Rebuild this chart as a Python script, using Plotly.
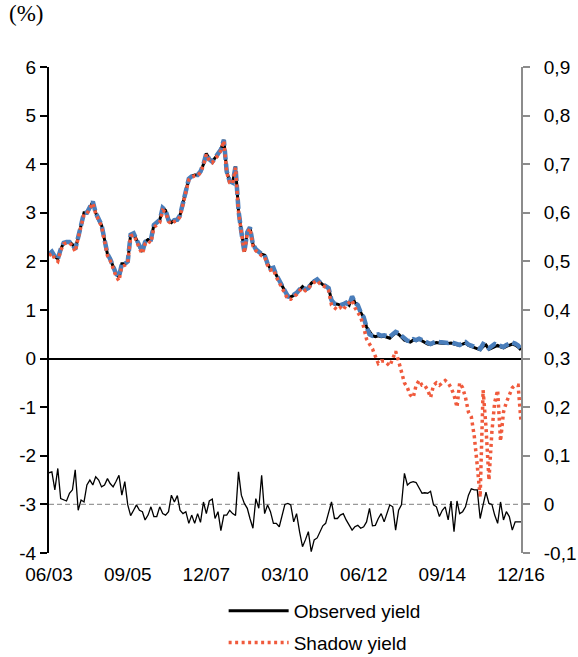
import plotly.graph_objects as go
from plotly.subplots import make_subplots
import pandas as pd

months = pd.date_range("2003-06-01", "2016-12-01", freq="MS")

observed_yield = [
    2.15, 2.20, 2.10, 2.05, 2.25, 2.38, 2.40, 2.40, 2.35, 2.25,
    2.50, 2.75, 3.00, 3.00, 3.10, 3.23, 3.00, 2.85, 2.75, 2.45,
    2.15, 2.05, 1.90, 1.75, 1.68, 1.95, 1.95, 2.00, 2.55, 2.58,
    2.45, 2.30, 2.20, 2.40, 2.45, 2.45, 2.75, 2.80, 2.85, 3.10,
    3.05, 2.85, 2.80, 2.85, 2.86, 2.95, 3.20, 3.50, 3.70, 3.75,
    3.78, 3.78, 3.85, 4.00, 4.22, 4.10, 4.05, 4.13, 4.20, 4.30,
    4.50, 3.85, 3.65, 3.62, 3.95, 3.05, 2.60, 2.20, 2.60, 2.70,
    2.35, 2.25, 2.20, 2.15, 2.13, 1.95, 1.85, 1.87, 1.72, 1.60,
    1.48, 1.38, 1.28, 1.27, 1.30, 1.35, 1.42, 1.48, 1.42, 1.45,
    1.55, 1.60, 1.63, 1.57, 1.52, 1.50, 1.45, 1.20, 1.13, 1.12,
    1.10, 1.12, 1.15, 1.10, 1.28, 1.15, 1.10, 0.95, 0.85, 0.65,
    0.55, 0.47, 0.45, 0.47, 0.45, 0.46, 0.44, 0.42, 0.48, 0.53,
    0.50, 0.45, 0.38, 0.36, 0.34, 0.38, 0.37, 0.40, 0.36, 0.33,
    0.30, 0.29, 0.31, 0.33, 0.32, 0.31, 0.31, 0.31, 0.32, 0.30,
    0.28, 0.27, 0.30, 0.32, 0.27, 0.25, 0.22, 0.20, 0.18, 0.25,
    0.28, 0.19, 0.22, 0.24, 0.27, 0.24, 0.22, 0.25, 0.28, 0.30,
    0.28, 0.24, 0.18,
]

fitted_yield = observed_yield[:110] + [
    0.50, 0.47, 0.48, 0.50, 0.47, 0.48, 0.46, 0.45, 0.50, 0.55,
    0.52, 0.47, 0.40, 0.37, 0.36, 0.40, 0.38, 0.41, 0.38, 0.35,
    0.31, 0.30, 0.33, 0.35, 0.34, 0.33, 0.33, 0.32, 0.34, 0.32,
    0.30, 0.28, 0.32, 0.34, 0.29, 0.27, 0.24, 0.22, 0.20, 0.30,
    0.27, 0.21, 0.25, 0.30, 0.28, 0.25, 0.24, 0.28, 0.31, 0.33,
    0.31, 0.27, 0.20,
]

shadow_yield = [
    2.12, 2.17, 2.05, 2.00, 2.22, 2.36, 2.38, 2.38, 2.32, 2.20,
    2.48, 2.72, 2.97, 2.98, 3.08, 3.20, 2.98, 2.83, 2.72, 2.42,
    2.12, 2.02, 1.86, 1.70, 1.60, 1.90, 1.92, 1.97, 2.52, 2.55,
    2.42, 2.26, 2.16, 2.36, 2.42, 2.38, 2.70, 2.76, 2.80, 3.05,
    3.02, 2.82, 2.77, 2.82, 2.84, 2.92, 3.17, 3.47, 3.68, 3.73,
    3.76, 3.76, 3.83, 3.98, 4.20, 4.07, 4.03, 4.11, 4.18, 4.28,
    4.48, 3.83, 3.62, 3.60, 3.93, 3.02, 2.57, 2.17, 2.57, 2.68,
    2.32, 2.22, 2.17, 2.12, 2.10, 1.92, 1.82, 1.84, 1.68, 1.56,
    1.44, 1.33, 1.22, 1.22, 1.26, 1.32, 1.40, 1.45, 1.40, 1.43,
    1.53, 1.58, 1.61, 1.54, 1.50, 1.47, 1.40, 1.10, 1.05, 1.00,
    1.05, 1.00, 1.10, 1.15, 1.20, 1.05, 0.95, 0.85, 0.65, 0.40,
    0.30, 0.20, 0.05, -0.10, -0.05, -0.05, -0.10, -0.15, 0.00, 0.15,
    -0.05, -0.30, -0.50, -0.60, -0.75, -0.80, -0.55, -0.45, -0.55, -0.55,
    -0.65, -0.80, -0.55, -0.50, -0.55, -0.50, -0.45, -0.50, -0.60, -0.75,
    -1.00, -0.50, -0.60, -0.80, -1.10, -1.20, -1.60, -2.20, -2.85, -0.65,
    -1.40, -2.50, -1.50, -0.90, -0.65, -1.70, -1.10, -0.90, -0.75, -0.60,
    -0.55, -0.55, -1.30,
]

residual = [
    0.065, 0.067, 0.030, 0.074, 0.012, 0.009, 0.007, 0.023, 0.030, 0.071,
    -0.012, 0.009, 0.005, 0.040, 0.050, 0.040, 0.057, 0.050, 0.036, 0.040,
    0.053, 0.043, 0.036, 0.047, 0.060, 0.019, 0.047, -0.001, -0.023, -0.012,
    -0.001, -0.012, -0.015, -0.032, -0.022, -0.005, -0.025, -0.025, -0.005, -0.019,
    -0.022, -0.015, 0.019, 0.005, 0.018, -0.012, -0.019, -0.015, -0.039, -0.022,
    -0.039, -0.019, -0.037, 0.005, -0.019, 0.007, 0.011, -0.029, -0.015, -0.054,
    -0.022, -0.022, -0.012, -0.019, -0.023, 0.067, 0.019, 0.002, -0.008, -0.029,
    -0.049, 0.012, -0.008, 0.060, -0.019, -0.001, -0.015, -0.039, -0.039, -0.046,
    -0.022, 0.000, 0.002, -0.001, -0.036, -0.019, -0.056, -0.087, -0.073, -0.056,
    -0.097, -0.073, -0.069, -0.056, -0.044, -0.039, -0.015, 0.005, -0.029, -0.029,
    -0.022, -0.019, -0.032, -0.043, -0.053, -0.046, -0.043, -0.049, -0.046, -0.036,
    -0.008, -0.044, -0.043, -0.029, -0.019, -0.036, -0.015, -0.001, -0.005, -0.053,
    -0.012, -0.001, 0.064, 0.040, 0.045, 0.047, 0.045, 0.034, 0.023, 0.024,
    0.023, 0.027, -0.001, -0.005, -0.025, -0.012, -0.005, -0.032, 0.007, -0.056,
    0.007, -0.019, -0.015, -0.005, 0.019, 0.032, 0.030, 0.030, -0.029, -0.001,
    0.025, 0.002, 0.000, -0.022, -0.039, 0.005, -0.032, -0.015, -0.025, -0.053,
    -0.036, -0.036, -0.036,
]

x_tick_dates = ["2003-06-01", "2005-09-01", "2007-12-01", "2010-03-01",
                "2012-06-01", "2014-09-01", "2016-12-01"]
x_tick_labels = ["06/03", "09/05", "12/07", "03/10", "06/12", "09/14", "12/16"]
left_ticks = [-4, -3, -2, -1, 0, 1, 2, 3, 4, 5, 6]
left_tick_labels = ["-4", "-3", "-2", "-1", "0", "1", "2", "3", "4", "5", "6"]
right_ticks = [-0.1, 0, 0.1, 0.2, 0.3, 0.4, 0.5, 0.6, 0.7, 0.8, 0.9]
right_tick_labels = ["-0,1", "0", "0,1", "0,2", "0,3", "0,4", "0,5", "0,6", "0,7", "0,8", "0,9"]

FONT = "Liberation Sans, Arial, sans-serif"
FS = 19

fig = make_subplots(specs=[[{"secondary_y": True}]])

fig.add_trace(go.Scatter(x=months, y=observed_yield, mode="lines", name="Observed yield",
                         line=dict(color="black", width=3), legendgroup="a"),
              secondary_y=False)
fig.add_trace(go.Scatter(x=months, y=fitted_yield, mode="lines", name="Fitted",
                         line=dict(color="#4A7EBB", width=4.5, dash="10px,4px"),
                         showlegend=False), secondary_y=False)
fig.add_trace(go.Scatter(x=months, y=shadow_yield, mode="lines", name="Shadow yield",
                         line=dict(color="#F05A3C", width=3.5, dash="3px,3.5px"), legendgroup="b"),
              secondary_y=False)
fig.add_trace(go.Scatter(x=months, y=residual, mode="lines", name="Residual",
                         line=dict(color="black", width=1.3), showlegend=False),
              secondary_y=True)

fig.update_layout(
    width=578, height=657,
    margin=dict(l=49, r=57, t=67, b=104, autoexpand=False),
    paper_bgcolor="white", plot_bgcolor="white",
    font=dict(family=FONT, size=FS, color="black"),
    showlegend=True,
    legend=dict(x=0.37, xanchor="left", y=-0.08, yanchor="top",
                font=dict(size=FS, family=FONT), itemwidth=60,
                tracegroupgap=4, traceorder="grouped", bgcolor="rgba(0,0,0,0)"),
    shapes=[dict(type="line", xref="paper", x0=0, x1=1, yref="y2", y0=0, y1=0,
                 line=dict(color="#999999", width=1.3, dash="5px,3px"), layer="below")],
    annotations=[dict(text="(%)", xref="paper", yref="paper", x=-0.088, y=1.08,
                      xanchor="left", yanchor="bottom", showarrow=False,
                      font=dict(family="Liberation Serif, Times New Roman, serif", size=23))],
)

fig.update_xaxes(type="date", range=["2003-06-01", "2016-12-01"], domain=[0, 1],
                 tickvals=x_tick_dates, ticktext=x_tick_labels,
                 showline=False, showgrid=False, zeroline=False, ticks="",
                 ticklabelstandoff=8, tickfont=dict(size=FS))
fig.update_yaxes(range=[-4, 6], tickvals=left_ticks, ticktext=left_tick_labels,
                 showline=True, linecolor="black", linewidth=2, ticks="outside",
                 ticklen=7, tickwidth=2, tickcolor="black", showgrid=False,
                 zeroline=True, zerolinecolor="black", zerolinewidth=2,
                 secondary_y=False)
fig.update_yaxes(range=[-0.1, 0.9], tickvals=right_ticks, ticktext=right_tick_labels,
                 showline=True, linecolor="#8C8C8C", linewidth=2, ticks="outside",
                 ticklen=7, tickwidth=2, tickcolor="#8C8C8C", showgrid=False,
                 zeroline=False, ticklabelstandoff=10, secondary_y=True)

fig.write_html("out.html")
